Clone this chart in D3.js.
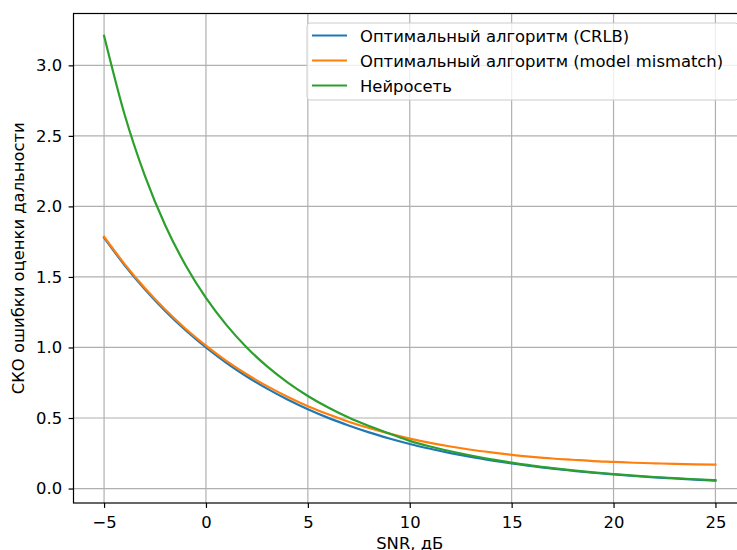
<!DOCTYPE html>
<html>
<head>
<meta charset="utf-8">
<script src="https://cdn.jsdelivr.net/npm/d3@7"></script>
<style>
  body { margin: 0; background: #fff; }
  svg { font-family: "DejaVu Sans", sans-serif; display: block; }
</style>
</head>
<body>
<div id="chart"></div>
<script>
// data
var snr = [-5,-4,-3,-2,-1,0,1,2,3,4,5,6,7,8,9,10,11,12,13,14,15,16,17,18,19,20,21,22,23,24,25];
var crlb = [1.778,1.585,1.413,1.259,1.122,1.000,0.891,0.794,0.708,0.631,0.562,0.501,0.447,0.398,0.355,0.316,
            0.282,0.251,0.224,0.200,0.178,0.158,0.141,0.126,0.112,0.100,0.089,0.079,0.071,0.063,0.056];
var mismatch = [1.785,1.593,1.422,1.269,1.133,1.013,0.905,0.810,0.726,0.651,0.584,0.526,0.474,0.429,0.389,0.354,
                0.324,0.298,0.275,0.256,0.239,0.225,0.213,0.204,0.195,0.189,0.183,0.179,0.175,0.172,0.170];
var neural = [3.210,2.655,2.218,1.867,1.583,1.351,1.160,1.000,0.866,0.753,0.656,0.574,0.503,0.443,0.390,0.338,
              0.298,0.264,0.234,0.207,0.184,0.163,0.145,0.129,0.115,0.103,0.092,0.082,0.074,0.066,0.059];
var seriesNames = ["Оптимальный алгоритм (CRLB)", "Оптимальный алгоритм (model mismatch)", "Нейросеть"];
var seriesColors = ["#1f77b4", "#ff7f0e", "#2ca02c"];
var xTicks = [-5, 0, 5, 10, 15, 20, 25];
var yTicks = [0, 0.5, 1.0, 1.5, 2.0, 2.5, 3.0];

var W = 737, H = 550;
var plotL = 73.5, plotT = 13.5, plotR = 746, plotB = 503;
var fs = "16.4px";

var svg = d3.select("#chart").append("svg")
    .attr("width", W)
    .attr("height", H);

var x = d3.scaleLinear().domain([-6.5, 26.5]).range([plotL, plotR]);
var y = d3.scaleLinear().domain([-0.1025, 3.3675]).range([plotB, plotT]);

// grid
svg.append("g").selectAll("line").data(xTicks).enter().append("line")
    .attr("x1", d => x(d)).attr("x2", d => x(d))
    .attr("y1", plotT).attr("y2", plotB)
    .attr("stroke", "#b0b0b0").attr("stroke-width", 1.2);
svg.append("g").selectAll("line").data(yTicks).enter().append("line")
    .attr("x1", plotL).attr("x2", plotR)
    .attr("y1", d => y(d)).attr("y2", d => y(d))
    .attr("stroke", "#b0b0b0").attr("stroke-width", 1.2);

// lines
var line = d3.line()
    .x((d, i) => x(snr[i]))
    .y(d => y(d))
    .curve(d3.curveMonotoneX);
[crlb, mismatch, neural].forEach(function (s, k) {
    svg.append("path")
        .datum(s)
        .attr("d", line)
        .attr("fill", "none")
        .attr("stroke", seriesColors[k])
        .attr("stroke-width", 2.2)
        .attr("stroke-linecap", "square");
});

// spines
svg.append("rect")
    .attr("x", plotL).attr("y", plotT)
    .attr("width", plotR - plotL).attr("height", plotB - plotT)
    .attr("fill", "none").attr("stroke", "#000").attr("stroke-width", 1.2);

// axes
var xAxis = d3.axisBottom(x).tickValues(xTicks).tickSize(4.9).tickPadding(8);
var yAxis = d3.axisLeft(y).tickValues(yTicks).tickSize(4.9).tickPadding(6.5).tickFormat(d3.format(".1f"));

var gx = svg.append("g").attr("transform", "translate(0," + plotB + ")").call(xAxis);
var gy = svg.append("g").attr("transform", "translate(" + plotL + ",0)").call(yAxis);
[gx, gy].forEach(function (g) {
    g.select(".domain").remove();
    g.selectAll(".tick line").attr("stroke", "#000").attr("stroke-width", 1.2);
    g.selectAll(".tick text").attr("fill", "#000").style("font-size", fs)
        .style("font-family", "DejaVu Sans");
});

// axis labels
svg.append("text")
    .attr("x", (plotL + plotR) / 2)
    .attr("y", 549)
    .attr("text-anchor", "middle")
    .style("font-size", fs)
    .text("SNR, дБ");

svg.append("text")
    .attr("transform", "translate(24," + ((plotT + plotB) / 2) + ") rotate(-90)")
    .attr("text-anchor", "middle")
    .style("font-size", fs)
    .text("СКО ошибки оценки дальности");

// legend
var lg = svg.append("g").attr("transform", "translate(307,23)");
lg.append("rect")
    .attr("width", 431).attr("height", 77)
    .attr("rx", 3)
    .attr("fill", "#fff").attr("fill-opacity", 0.8)
    .attr("stroke", "#cccccc").attr("stroke-width", 1);
seriesNames.forEach(function (name, i) {
    var yy = 12.5 + i * 25;
    lg.append("line")
        .attr("x1", 5).attr("x2", 40)
        .attr("y1", yy).attr("y2", yy)
        .attr("stroke", seriesColors[i]).attr("stroke-width", 2.2);
    lg.append("text")
        .attr("x", 53).attr("y", yy + 6)
        .style("font-size", fs)
        .text(name);
});
</script>
</body>
</html>
